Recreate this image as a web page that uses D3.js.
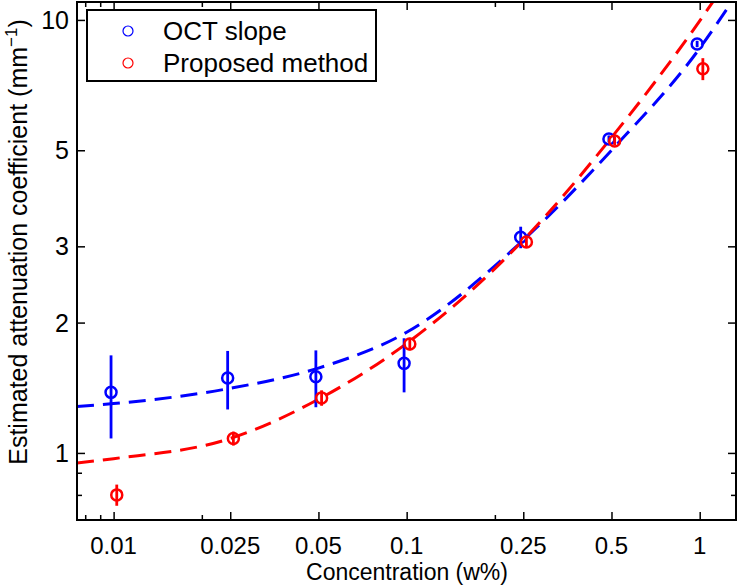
<!DOCTYPE html>
<html>
<head>
<meta charset="utf-8">
<script src="https://cdn.jsdelivr.net/npm/d3@7"></script>
<style>
  html, body { margin: 0; padding: 0; background: #fff; }
  svg { display: block; }
  text { font-family: "Liberation Sans", Arial, Helvetica, sans-serif; fill: #000; }
</style>
</head>
<body>
<svg id="chart" width="738" height="585"></svg>
<script>
// ---- Data ----
const concentrations = [0.01, 0.025, 0.05, 0.1, 0.25, 0.5, 1];
const octSlope      = [1.38, 1.49, 1.50, 1.61, 3.15, 5.31, 8.80];
const octSlopeErr   = [0.30, 0.23, 0.225, 0.23, 0.18, 0.10, 0.15];
const proposed      = [0.80, 1.08, 1.34, 1.785, 3.07, 5.25, 7.71];
const proposedErr   = [0.045, 0.04, 0.055, 0.06, 0.08, 0.12, 0.45];

// dashed fit curves
const fitConc  = [0.0075, 0.01, 0.025, 0.05, 0.1, 0.25, 0.5, 1, 1.33];
const octFit   = [1.28, 1.30, 1.41, 1.57, 1.90, 3.10, 5.00, 8.60, 11.4];
const propFit  = [0.948, 0.97, 1.08, 1.33, 1.79, 3.10, 5.35, 9.95, 13.2];

const xTickValues = [0.01, 0.025, 0.05, 0.1, 0.25, 0.5, 1];
const xTickLabels = ["0.01", "0.025", "0.05", "0.1", "0.25", "0.5", "1"];
const xMinorTicks = [0.008, 0.009, 0.02, 0.2];
const yTickValues = [1, 2, 3, 5, 10];
const yTickLabels = ["1", "2", "3", "5", "10"];
const yMinorTicks = [0.8, 0.9];

const seriesNames = ["OCT slope", "Proposed method"];
const seriesColors = ["#0000ff", "#ff0000"];

// ---- Layout ----
const L = 77, R = 736, T = 2, B = 520;
const svg = d3.select("#chart");

const x = d3.scaleLog().domain([0.0075, 1.33]).range([L, R]);
const y = d3.scaleLog().domain([0.7, 11]).range([B, T]);

// clip
svg.append("defs").append("clipPath").attr("id", "plotClip")
  .append("rect").attr("x", L).attr("y", T).attr("width", R - L).attr("height", B - T);

const plot = svg.append("g").attr("clip-path", "url(#plotClip)");

// fit curves
const line = d3.line()
  .x(d => x(d[0])).y(d => y(d[1]))
  .curve(d3.curveMonotoneX);

[[octFit, 0], [propFit, 1]].forEach(([vals, i]) => {
  plot.append("path")
    .datum(fitConc.map((c, k) => [c, vals[k]]))
    .attr("d", line)
    .attr("fill", "none")
    .attr("stroke", seriesColors[i])
    .attr("stroke-width", 3)
    .attr("stroke-dasharray", "17,9");
});

// data points with error bars (small horizontal offsets as in the figure)
const offsets = [0.98, 1.025];
[[octSlope, octSlopeErr, 0], [proposed, proposedErr, 1]].forEach(([vals, errs, i]) => {
  const g = plot.append("g");
  const data = concentrations.map((c, k) => ({c: c * offsets[i], v: vals[k], e: errs[k]}));
  g.selectAll("line.err").data(data).join("line")
    .attr("class", "err")
    .attr("x1", d => x(d.c)).attr("x2", d => x(d.c))
    .attr("y1", d => y(d.v - d.e)).attr("y2", d => y(d.v + d.e))
    .attr("stroke", seriesColors[i]).attr("stroke-width", 2.8);
  g.selectAll("circle").data(data).join("circle")
    .attr("cx", d => x(d.c)).attr("cy", d => y(d.v)).attr("r", 5.5)
    .attr("fill", "none").attr("stroke", seriesColors[i]).attr("stroke-width", 2.5);
});

// ---- Axes box and ticks ----
const axes = svg.append("g");
const majorLen = 8, minorLen = 5;

function ticks(axisFn, pos, vals, len) {
  axes.append("g").attr("transform", pos)
    .call(axisFn.tickValues(vals).tickSize(-len).tickFormat(""))
    .call(g => g.select(".domain").remove());
}
ticks(d3.axisBottom(x), `translate(0,${B})`, xTickValues, majorLen);
ticks(d3.axisBottom(x), `translate(0,${B})`, xMinorTicks, minorLen);
ticks(d3.axisTop(x), `translate(0,${T})`, xTickValues, majorLen);
ticks(d3.axisTop(x), `translate(0,${T})`, xMinorTicks, minorLen);
ticks(d3.axisLeft(y), `translate(${L},0)`, yTickValues, majorLen);
ticks(d3.axisLeft(y), `translate(${L},0)`, yMinorTicks, minorLen);
ticks(d3.axisRight(y), `translate(${R},0)`, yTickValues, majorLen);
ticks(d3.axisRight(y), `translate(${R},0)`, yMinorTicks, minorLen);
axes.selectAll(".tick line").attr("stroke", "#000").attr("stroke-width", 1.5);

axes.append("rect").attr("x", L).attr("y", T).attr("width", R - L).attr("height", B - T)
  .attr("fill", "none").attr("stroke", "#000").attr("stroke-width", 2);

// tick labels
svg.append("g").selectAll("text").data(xTickValues).join("text")
  .attr("x", d => x(d)).attr("y", 554)
  .attr("text-anchor", "middle").attr("font-size", 24)
  .text((d, i) => xTickLabels[i]);
svg.append("g").selectAll("text").data(yTickValues).join("text")
  .attr("x", 69).attr("y", d => y(d)).attr("dy", "0.36em")
  .attr("text-anchor", "end").attr("font-size", 25)
  .text((d, i) => yTickLabels[i]);

// axis labels
svg.append("text").attr("x", 407).attr("y", 580)
  .attr("text-anchor", "middle").attr("font-size", 23)
  .text("Concentration (w%)");

const yl = svg.append("text")
  .attr("transform", "translate(27,242) rotate(-90)")
  .attr("text-anchor", "middle").attr("font-size", 25);
yl.append("tspan").text("Estimated attenuation coefficient (mm");
yl.append("tspan").attr("font-size", 17).attr("dy", -10).text("\u22121");
yl.append("tspan").attr("dy", 10).text(")");

// ---- Legend ----
const lg = svg.append("g");
lg.append("rect").attr("x", 87).attr("y", 10).attr("width", 289).attr("height", 71)
  .attr("fill", "#fff").attr("stroke", "#000").attr("stroke-width", 2);
seriesNames.forEach((name, i) => {
  const cy = 31 + i * 32;
  lg.append("circle").attr("cx", 128).attr("cy", cy).attr("r", 5)
    .attr("fill", "none").attr("stroke", seriesColors[i]).attr("stroke-width", 1.2);
  lg.append("text").attr("x", 163).attr("y", cy + 9).attr("font-size", 26).text(name);
});
</script>
</body>
</html>
